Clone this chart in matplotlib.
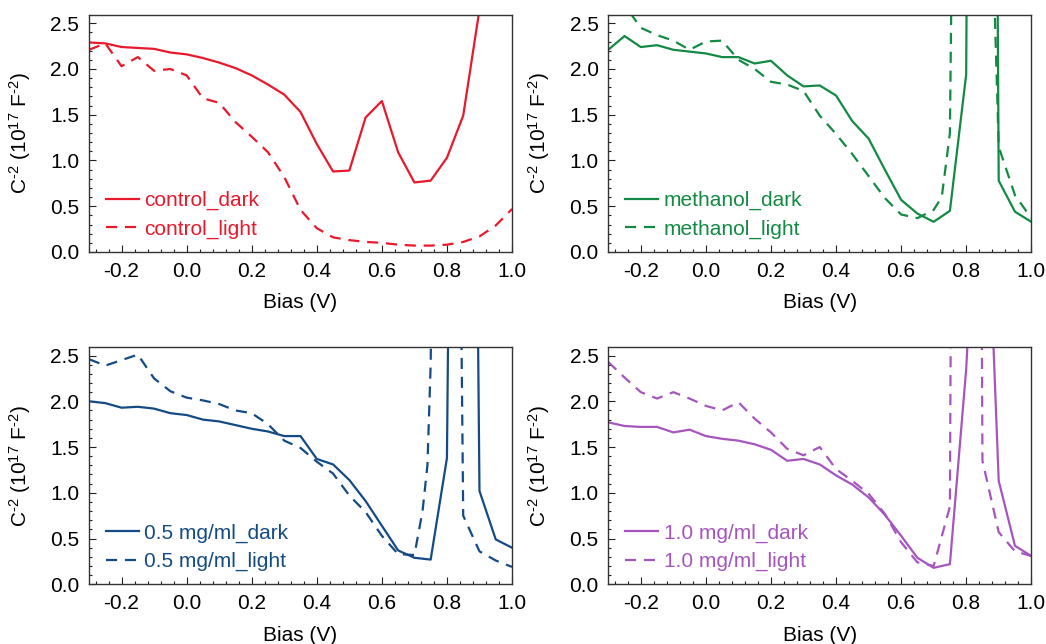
import numpy as np
import matplotlib.pyplot as plt
from matplotlib.ticker import MultipleLocator, AutoMinorLocator

plt.rcParams['font.family'] = ['Liberation Sans', 'DejaVu Sans']
plt.rcParams['mathtext.fontset'] = 'custom'
plt.rcParams['mathtext.rm'] = 'Liberation Sans'
plt.rcParams['mathtext.it'] = 'Liberation Sans:italic'
plt.rcParams['font.size'] = 15

# --- bias grid (V) ---
bias = [-0.30, -0.25, -0.20, -0.15, -0.10, -0.05, 0.00, 0.05, 0.10, 0.15, 0.20,
        0.25, 0.30, 0.35, 0.40, 0.45, 0.50, 0.55, 0.60, 0.65, 0.70, 0.75, 0.80,
        0.85, 0.90, 0.95, 1.00]

# --- control ---
control_dark_v = bias[:25]
control_dark = [2.29, 2.28, 2.24, 2.23, 2.22, 2.18, 2.16, 2.12, 2.07, 2.01, 1.93,
                1.83, 1.72, 1.53, 1.18, 0.88, 0.89, 1.47, 1.65, 1.09, 0.76, 0.78,
                1.03, 1.49, 2.65]
control_light_v = bias
control_light = [2.21, 2.28, 2.03, 2.13, 1.98, 2.00, 1.93, 1.68, 1.63, 1.42, 1.26,
                 1.09, 0.82, 0.46, 0.26, 0.16, 0.13, 0.11, 0.10, 0.08, 0.07, 0.07,
                 0.08, 0.11, 0.17, 0.29, 0.47]

# --- methanol ---
methanol_dark_v = bias
methanol_dark = [2.21, 2.36, 2.24, 2.26, 2.21, 2.19, 2.17, 2.13, 2.13, 2.06, 2.09,
                 1.93, 1.81, 1.82, 1.71, 1.43, 1.24, 0.90, 0.57, 0.42, 0.33, 0.45,
                 1.94, 31.0, 0.78, 0.44, 0.33]
methanol_light_v = [-0.30, -0.25, -0.20, -0.15, -0.10, -0.05, 0.00, 0.05, 0.10, 0.15,
                    0.20, 0.25, 0.30, 0.35, 0.40, 0.45, 0.50, 0.55, 0.60, 0.65, 0.70,
                    0.725, 0.75, 0.80, 0.85, 0.90, 0.95, 1.00]
methanol_light = [2.85, 2.70, 2.45, 2.37, 2.31, 2.21, 2.30, 2.31, 2.10, 2.00, 1.86,
                  1.83, 1.76, 1.49, 1.29, 1.07, 0.83, 0.59, 0.41, 0.37, 0.46, 0.60,
                  1.30, 18.0, 7.2, 1.15, 0.62, 0.37]

# --- 0.5 mg/ml ---
c05_dark_v = bias
c05_dark = [2.00, 1.98, 1.93, 1.94, 1.92, 1.87, 1.85, 1.80, 1.78, 1.74, 1.70, 1.67,
            1.62, 1.62, 1.37, 1.31, 1.14, 0.91, 0.64, 0.37, 0.29, 0.27, 1.38, 20.0,
            1.02, 0.49, 0.40]
c05_light_v = [-0.30, -0.25, -0.20, -0.15, -0.10, -0.05, 0.00, 0.05, 0.10, 0.15, 0.20,
               0.25, 0.30, 0.35, 0.40, 0.45, 0.50, 0.55, 0.60, 0.65, 0.70, 0.725,
               0.74, 0.75, 0.80, 0.85, 0.90, 0.95, 1.00]
c05_light = [2.46, 2.39, 2.45, 2.51, 2.25, 2.11, 2.04, 2.01, 1.97, 1.90, 1.87, 1.75,
             1.57, 1.49, 1.34, 1.21, 0.97, 0.79, 0.53, 0.33, 0.32, 0.80, 1.30, 2.40,
             19.0, 0.75, 0.36, 0.26, 0.19]

# --- 1.0 mg/ml ---
c10_dark_v = bias
c10_dark = [1.77, 1.73, 1.72, 1.72, 1.66, 1.69, 1.62, 1.59, 1.57, 1.53, 1.47, 1.35,
            1.37, 1.31, 1.19, 1.09, 0.95, 0.76, 0.53, 0.29, 0.18, 0.22, 2.35, 5.7,
            1.13, 0.42, 0.31]
c10_light_v = bias
c10_light = [2.43, 2.26, 2.10, 2.03, 2.10, 2.03, 1.95, 1.90, 1.99, 1.81, 1.66, 1.48,
             1.41, 1.50, 1.26, 1.13, 0.99, 0.77, 0.46, 0.24, 0.20, 0.85, 40.0, 1.35,
             0.57, 0.36, 0.31]

panels = [
    ('control', '#E8192C', control_dark_v, control_dark, control_light_v, control_light),
    ('methanol', '#138A43', methanol_dark_v, methanol_dark, methanol_light_v, methanol_light),
    ('0.5 mg/ml', '#154B84', c05_dark_v, c05_dark, c05_light_v, c05_light),
    ('1.0 mg/ml', '#A655BE', c10_dark_v, c10_dark, c10_light_v, c10_light),
]

fig = plt.figure(figsize=(10.46, 6.44), dpi=100)
lefts = [0.0851, 0.5815]
bottoms = [0.6087, 0.0927]
w, h = 0.4044, 0.368

for i, (name, col, xd, yd, xl, yl) in enumerate(panels):
    ax = fig.add_axes([lefts[i % 2], bottoms[i // 2], w, h])
    ax.plot(xd, yd, color=col, lw=1.6, label=name + '_dark')
    ax.plot(xl, yl, color=col, lw=1.6, ls=(0, (5, 3.5)), label=name + '_light')
    ax.set_xlim(-0.3, 1.0)
    ax.set_ylim(0, 2.59)
    ax.xaxis.set_minor_locator(AutoMinorLocator(5))
    ax.yaxis.set_major_locator(MultipleLocator(0.5))
    ax.yaxis.set_minor_locator(AutoMinorLocator(5))
    ax.set_xticks([-0.2, 0.0, 0.2, 0.4, 0.6, 0.8, 1.0])
    ax.set_xticklabels(['-0.2', '0.0', '0.2', '0.4', '0.6', '0.8', '1.0'])
    ax.tick_params(which='both', direction='in', top=False, right=False,
                   color='#222222', width=0.8)
    ax.tick_params(which='major', length=5, pad=7)
    ax.tick_params(which='minor', length=2.5)
    for sp in ax.spines.values():
        sp.set_color('#333333')
        sp.set_linewidth(1.0)
    ax.set_xlabel('Bias (V)', labelpad=9)
    ax.set_ylabel(r'C$^{\text{-2}}$ (10$^{17}$ F$^{\text{-2}}$)')
    ax.yaxis.set_label_coords(-0.133, 0.5)
    ax.legend(loc='lower left', bbox_to_anchor=(0.02, 0.02), frameon=False,
              handlelength=1.6, handletextpad=0.25, labelspacing=0.45,
              borderaxespad=0, labelcolor='linecolor', fontsize=15)

fig.savefig('out.png', dpi=100)
